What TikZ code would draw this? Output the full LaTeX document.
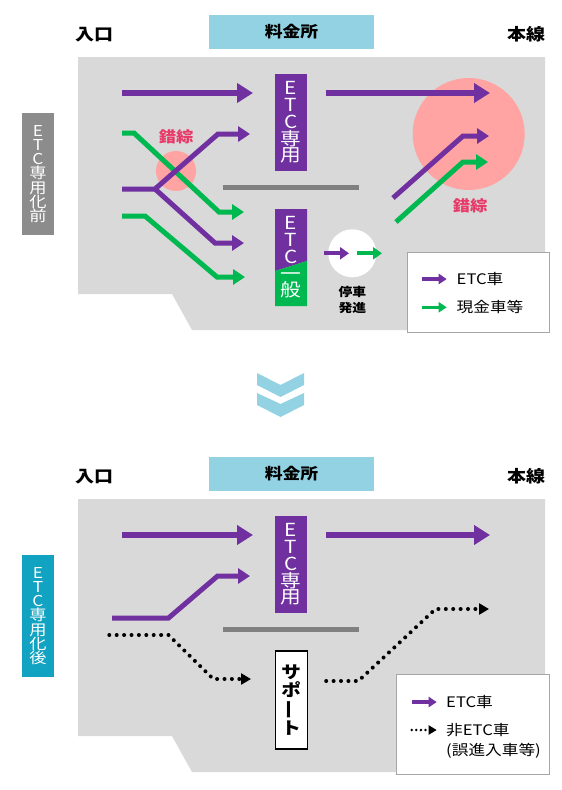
\documentclass[tikz,border=0pt]{standalone}
\usepackage{fontspec}
\setmainfont{Noto Sans CJK JP}[FakeStretch=1.15]
\usetikzlibrary{arrows.meta,positioning}

\definecolor{etcpurple}{RGB}{112,48,160}
\definecolor{cashgreen}{RGB}{0,184,80}
\definecolor{plazagray}{RGB}{217,217,217}
\definecolor{tollblue}{RGB}{146,210,226}
\definecolor{mixpink}{RGB}{255,163,163}
\definecolor{mixred}{RGB}{232,58,104}
\definecolor{bargray}{RGB}{128,128,128}
\definecolor{beforegray}{RGB}{140,140,140}
\definecolor{afterteal}{RGB}{18,162,194}

\tikzset{
  title/.style={font=\bfseries\fontsize{16.5}{16.5}\selectfont, inner sep=0pt},
  tollbox/.style={fill=tollblue, minimum width=165pt, minimum height=34pt, inner sep=0pt,
    font=\bfseries\fontsize{15.5}{15.5}\selectfont},
  sidebox/.style={minimum width=32pt, minimum height=122pt, inner sep=0pt, align=center,
    text=white, font=\fontsize{15}{14.2}\selectfont},
  gatebox/.style={minimum width=32pt, minimum height=97pt, inner sep=0pt, align=center,
    text=white, font=\fontsize{18}{16.7}\selectfont},
  mixlabel/.style={text=mixred, font=\bfseries\fontsize{15}{15}\selectfont, inner sep=0pt},
  lane/.style={etcpurple, line width=6.7pt, -{Triangle[length=16pt,width=19pt]}},
  ramp/.style={line width=5pt, -{Triangle[length=12pt,width=15pt]}},
  stoparrow/.style={line width=4pt, -{Triangle[length=9pt,width=12pt]}},
  keyarrow/.style={line width=3.5pt, -{Triangle[length=8pt,width=10pt]}},
  dotline/.style={line width=4pt, line cap=round, dash pattern=on 0pt off 7.4pt,
    -{Triangle[length=10pt,width=11pt]}},
  keydots/.style={line width=2.8pt, line cap=round, dash pattern=on 0pt off 4.6pt,
    -{Triangle[length=8pt,width=9pt]}},
  keytext/.style={font=\fontsize{14.5}{14.5}\selectfont, inner sep=0pt, anchor=west},
  legendbox/.style={draw=gray!70, line width=0.8pt, fill=white}
}

\begin{document}
\begin{tikzpicture}[x=1pt,y=-1pt]
  \useasboundingbox (0,0) rectangle (562,790);

  % Common parts of both panels
  \foreach \dy/\p/\tailchar/\sidecol in {0/a/前/beforegray, 442/b/後/afterteal} {
    \fill[plazagray] (78,57+\dy) -- (545,57+\dy) -- (545,330+\dy) -- (192,330+\dy)
      -- (172,294+\dy) -- (78,294+\dy) -- cycle;
    \node[title] (entry\p) at (94,35+\dy) {入口};
    \node[tollbox] (plaza\p) at (291.5,32+\dy) {料金所};
    \node[title] (main\p) at (526,34+\dy) {本線};
    \node[sidebox, fill=\sidecol] (side\p) at (38,174+\dy) {E\\T\\C\\専\\用\\化\\\tailchar};
    \draw[line width=5pt, bargray] (223,187+\dy) -- (359,187+\dy);
    \node[gatebox, fill=etcpurple] (etconly\p) at (291,122.5+\dy) {E\\T\\C\\専\\用};
  }

  % Before: weaving circles
  \fill[mixpink] (468.7,134) circle (56);
  \fill[mixpink] (176,171) circle (20);
  \node[mixlabel] (mixleft) at (176,137) {錯綜};
  \node[mixlabel] (mixright) at (470,206) {錯綜};

  % Before: lanes
  \draw[lane] (122,93) -- (253,93);
  \draw[lane] (326,93) -- (490,93);
  \draw[ramp, cashgreen] (122,133) -- (134,133) -- (219,212) -- (244,212);
  \draw[ramp, etcpurple] (122,189) -- (155,189) -- (218,134) -- (250,134);
  \draw[ramp, etcpurple] (155,189) -- (215,243) -- (244,243);
  \draw[ramp, cashgreen] (122,216) -- (145,216) -- (217,277) -- (245,277);
  \draw[ramp, etcpurple] (393,198) -- (463,136) -- (489,136);
  \draw[ramp, cashgreen] (396,222) -- (463,162) -- (488,162);

  % Before: mixed gate
  \fill[etcpurple] (275,209) -- (307,209) -- (307,261) -- (275,271) -- cycle;
  \fill[cashgreen] (275,271) -- (307,261) -- (307,306) -- (275,306) -- cycle;
  \node[gatebox] (general) at (291,257.5) {E\\T\\C\\一\\般};

  % Before: stop and go
  \fill[white] (352.3,253.3) circle (24);
  \draw[stoparrow, etcpurple] (324,253.3) -- (349,253.3);
  \draw[stoparrow, cashgreen] (357,253.3) -- (382,253.3);
  \node[font=\bfseries\fontsize{12}{16}\selectfont, align=center, inner sep=0pt] (stopgo)
    at (352.3,299.5) {停車\\発進};

  % Before: legend
  \node[legendbox, minimum width=142pt, minimum height=80pt] (legenda) at (478.3,292) {};
  \draw[keyarrow, etcpurple] (421.7,279) -- (446.7,279);
  \draw[keyarrow, cashgreen] (421.7,307.3) -- (446.7,307.3);
  \node[keytext] (keyetca) at (456.5,279) {ETC車};
  \node[keytext] (keycash) at (456.5,307.3) {現金車等};

  % Arrow between panels
  \fill[tollblue] (257,373) -- (280.5,385) -- (304,373) -- (304,385) -- (280.5,397) -- (257,385) -- cycle;
  \fill[tollblue] (257,393) -- (280.5,404) -- (304,393) -- (304,405) -- (280.5,417) -- (257,405) -- cycle;

  % After: lanes
  \draw[lane] (122,535) -- (253,535);
  \draw[lane] (326,535) -- (490,535);
  \draw[ramp, etcpurple] (112,618) -- (168.5,618) -- (217.6,576) -- (250,576);
  \draw[dotline] (109.3,635) -- (168.5,635) -- (213.3,679) -- (251,679);
  \draw[dotline] (326.2,681) -- (358.4,681) -- (435.5,609) -- (489,609);

  % After: support gate
  \node[draw=black, line width=1.2pt, fill=white, minimum width=32pt, minimum height=98pt,
    inner sep=0pt, align=center, font=\bfseries\fontsize{17}{18}\selectfont] (support)
    at (291.2,700) {サ\\ポ\\\rotatebox[origin=c]{90}{ー}\\ト};

  % After: legend
  \node[legendbox, minimum width=153pt, minimum height=100pt] (legendb) at (473.2,724.5) {};
  \draw[keyarrow, etcpurple] (411.7,702) -- (436.7,702);
  \draw[keydots] (411.7,730) -- (436.7,730);
  \node[keytext] (keyetcb) at (446,702) {ETC車};
  \node[keytext] (keynon) at (446,730) {非ETC車};
  \node[keytext] (keymis) at (446,751) {(誤進入車等)};
\end{tikzpicture}
\end{document}
